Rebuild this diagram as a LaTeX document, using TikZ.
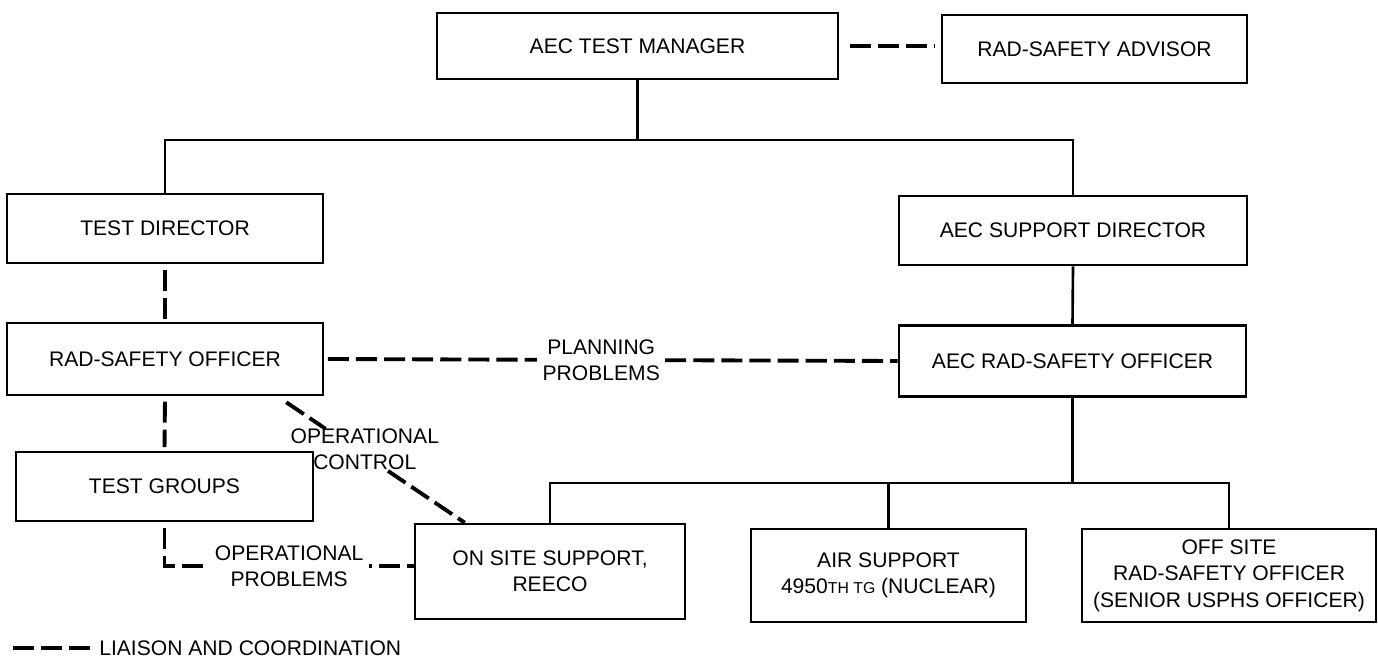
\documentclass[tikz,border=0pt]{standalone}
\usepackage{fontspec}
\setmainfont{Liberation Sans}
\usetikzlibrary{calc}

\tikzset{
  office/.style={draw, rectangle, line width=1.5pt, align=center, inner sep=0pt,
    font=\fontsize{12}{15}\selectfont},
  command/.style={line width=1.5pt},
  liaison/.style={line width=2.2pt, dash pattern=on 12pt off 4pt},
  remark/.style={fill=white, align=center, inner sep=3pt,
    font=\fontsize{12}{15}\selectfont}
}

\begin{document}
\begin{tikzpicture}[x=0.02cm, y=-0.02cm]
  \useasboundingbox (0,0) rectangle (1378,665);

  \node[office, minimum width=8.02cm, minimum height=1.32cm] (mgr) at (637.5,46) {AEC TEST MANAGER};
  \node[office, minimum width=6.10cm, minimum height=1.36cm] (adv) at (1094.5,49) {RAD-SAFETY ADVISOR};
  \node[office, minimum width=6.32cm, minimum height=1.38cm] (tdir) at (165,228.5) {TEST DIRECTOR};
  \node[office, minimum width=6.96cm, minimum height=1.38cm] (sdir) at (1073,230.5) {AEC SUPPORT DIRECTOR};
  \node[office, minimum width=6.32cm, minimum height=1.44cm] (rso) at (165,359) {RAD-SAFETY OFFICER};
  \node[office, minimum width=6.94cm, minimum height=1.42cm] (arso) at (1072.5,361) {AEC RAD-SAFETY OFFICER};
  \node[office, minimum width=5.94cm, minimum height=1.38cm] (tgrp) at (164.5,486.5) {TEST GROUPS};
  \node[office, minimum width=5.40cm, minimum height=1.90cm] (onsite) at (550,571.5) {ON SITE SUPPORT,\\REECO};
  \node[office, minimum width=5.50cm, minimum height=1.86cm] (air) at (888.5,575.5)
    {AIR SUPPORT\\4950{\fontsize{9}{9}\selectfont TH TG} (NUCLEAR)};
  \node[office, minimum width=5.88cm, minimum height=1.86cm] (off) at (1229,575.5)
    {OFF SITE\\RAD-SAFETY OFFICER\\(SENIOR USPHS OFFICER)};

  \coordinate (trunk) at (0,140);
  \coordinate (bus) at (0,483);
  \draw[command] (mgr.south) -- (mgr.south |- trunk);
  \draw[command] (tdir.north) |- (sdir.north |- trunk) -- (sdir.north);
  \draw[command] (sdir.south) -- (arso.north);
  \draw[command] (arso.south) -- (arso.south |- bus);
  \draw[command] (onsite.north) |- (off.north |- bus) -- (off.north);
  \draw[command] (air.north) -- (air.north |- bus);

  \draw[liaison, shorten <=6pt, shorten >=3pt] (mgr.east) -- (mgr.east -| adv.west);
  \draw[liaison, shorten <=3pt, shorten >=1pt] (tdir.south) -- (rso.north);
  \draw[liaison, shorten <=3pt, shorten >=2pt] (rso.south) -- (tgrp.north);
  \draw[liaison, shorten <=2pt] (rso.east) -- node[remark, pos=0.483] (plan) {PLANNING\\PROBLEMS} (arso.west);

  \coordinate (ocA) at ($(rso.south east)+(-38,6)$);
  \coordinate (ocB) at ($(onsite.north west)+(51,0)$);
  \draw[liaison] (ocA) -- ($(ocA)!0.22!(ocB)$);
  \draw[liaison] ($(ocA)!0.57!(ocB)$) -- (ocB);
  \node[align=center, inner sep=0pt, font=\fontsize{12}{15}\selectfont] (opctrl)
    at ($(ocA)!0.44!(ocB)+(0,-6)$) {OPERATIONAL\\CONTROL};

  \draw[liaison, shorten <=3pt] (tgrp.south) |- node[remark, pos=0.75] (opprob) {OPERATIONAL\\PROBLEMS}
    ([yshift=3pt]onsite.west);

  \node[anchor=west, inner sep=0pt, font=\fontsize{12}{15}\selectfont] (legend) at (99,648) {LIAISON AND COORDINATION};
  \coordinate (legstart) at (13,648);
  \draw[liaison, shorten >=3pt] (legstart) -- (legend.west);
\end{tikzpicture}
\end{document}
